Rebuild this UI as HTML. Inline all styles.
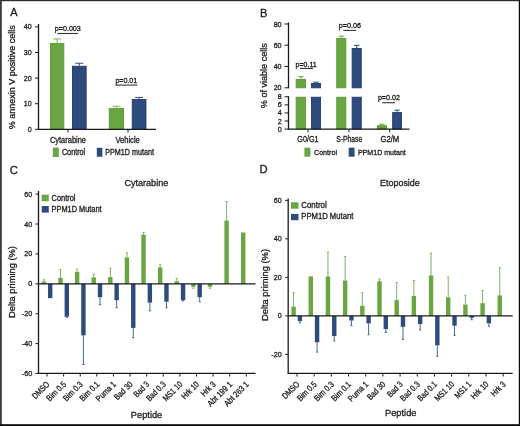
<!DOCTYPE html>
<html><head><meta charset="utf-8"><style>
html,body{margin:0;padding:0;background:#fff;}
body{width:520px;height:426px;overflow:hidden;position:relative;}
svg{position:absolute;left:0;top:0;will-change:transform;}
text{font-family:"Liberation Sans",sans-serif;stroke:#1a1a1a;stroke-width:0.3px;}
</style></head><body>
<svg width="520" height="426" viewBox="0 0 520 426">
<rect x="0" y="0" width="520" height="426" fill="#fff"/>
<text x="10.20" y="15.90" font-size="11" fill="#1a1a1a">A</text>
<line x1="57.15" y1="43.03" x2="57.15" y2="38.93" stroke="#78b158" stroke-width="1"/>
<line x1="53.15" y1="38.93" x2="61.15" y2="38.93" stroke="#78b158" stroke-width="1"/>
<rect x="50.45" y="43.48" width="13.40" height="85.82" fill="#6aa544" stroke="#5a9a34" stroke-width="0.9"/>
<line x1="79.30" y1="65.81" x2="79.30" y2="63.25" stroke="#2e4b7e" stroke-width="1"/>
<line x1="75.30" y1="63.25" x2="83.30" y2="63.25" stroke="#2e4b7e" stroke-width="1"/>
<rect x="72.45" y="66.26" width="13.70" height="63.04" fill="#2e4b7e" stroke="#1f3b6e" stroke-width="0.9"/>
<line x1="116.40" y1="108.05" x2="116.40" y2="106.26" stroke="#78b158" stroke-width="1"/>
<line x1="112.40" y1="106.26" x2="120.40" y2="106.26" stroke="#78b158" stroke-width="1"/>
<rect x="109.25" y="108.50" width="14.30" height="20.80" fill="#6aa544" stroke="#5a9a34" stroke-width="0.9"/>
<line x1="139.10" y1="99.09" x2="139.10" y2="97.40" stroke="#2e4b7e" stroke-width="1"/>
<line x1="135.10" y1="97.40" x2="143.10" y2="97.40" stroke="#2e4b7e" stroke-width="1"/>
<rect x="132.25" y="99.54" width="13.70" height="29.76" fill="#2e4b7e" stroke="#1f3b6e" stroke-width="0.9"/>
<line x1="38.50" y1="24.00" x2="38.50" y2="129.80" stroke="#1a1a1a" stroke-width="1.3"/>
<line x1="38.00" y1="129.30" x2="156.00" y2="129.30" stroke="#1a1a1a" stroke-width="1.3"/>
<line x1="35.00" y1="129.30" x2="38.50" y2="129.30" stroke="#1a1a1a" stroke-width="1"/>
<text x="31.80" y="131.85" font-size="7.9" text-anchor="end" textLength="3.97" lengthAdjust="spacingAndGlyphs" fill="#1a1a1a">0</text>
<line x1="35.00" y1="103.70" x2="38.50" y2="103.70" stroke="#1a1a1a" stroke-width="1"/>
<text x="31.80" y="106.25" font-size="7.9" text-anchor="end" textLength="7.94" lengthAdjust="spacingAndGlyphs" fill="#1a1a1a">10</text>
<line x1="35.00" y1="78.10" x2="38.50" y2="78.10" stroke="#1a1a1a" stroke-width="1"/>
<text x="31.80" y="80.65" font-size="7.9" text-anchor="end" textLength="7.94" lengthAdjust="spacingAndGlyphs" fill="#1a1a1a">20</text>
<line x1="35.00" y1="52.50" x2="38.50" y2="52.50" stroke="#1a1a1a" stroke-width="1"/>
<text x="31.80" y="55.05" font-size="7.9" text-anchor="end" textLength="7.94" lengthAdjust="spacingAndGlyphs" fill="#1a1a1a">30</text>
<line x1="35.00" y1="26.90" x2="38.50" y2="26.90" stroke="#1a1a1a" stroke-width="1"/>
<text x="31.80" y="29.45" font-size="7.9" text-anchor="end" textLength="7.94" lengthAdjust="spacingAndGlyphs" fill="#1a1a1a">40</text>
<line x1="68.00" y1="129.30" x2="68.00" y2="132.50" stroke="#1a1a1a" stroke-width="1"/>
<line x1="128.00" y1="129.30" x2="128.00" y2="132.50" stroke="#1a1a1a" stroke-width="1"/>
<text x="15.30" y="129.30" font-size="9.6" textLength="104.00" lengthAdjust="spacingAndGlyphs" transform="rotate(-90 15.30 129.30)" fill="#1a1a1a">% annexin V positive cells</text>
<text x="49.90" y="143.10" font-size="8.8" textLength="36.10" lengthAdjust="spacingAndGlyphs" fill="#1a1a1a">Cytarabine</text>
<text x="115.40" y="142.90" font-size="8.8" textLength="24.40" lengthAdjust="spacingAndGlyphs" fill="#1a1a1a">Vehicle</text>
<rect x="52.80" y="147.60" width="6.00" height="9.40" fill="#6aa544"/>
<text x="61.90" y="154.90" font-size="8.2" textLength="23.30" lengthAdjust="spacingAndGlyphs" fill="#1a1a1a">Control</text>
<rect x="96.80" y="147.80" width="5.60" height="9.00" fill="#2e4b7e"/>
<text x="105.30" y="154.70" font-size="8.2" textLength="48.60" lengthAdjust="spacingAndGlyphs" fill="#1a1a1a">PPM1D mutant</text>
<text x="54.80" y="30.80" font-size="7.8" textLength="26.00" lengthAdjust="spacingAndGlyphs" fill="#1a1a1a">p=0.003</text>
<line x1="57.30" y1="33.50" x2="78.00" y2="33.50" stroke="#333" stroke-width="1.1"/>
<text x="115.40" y="82.50" font-size="7.8" textLength="21.80" lengthAdjust="spacingAndGlyphs" fill="#1a1a1a">p=0.01</text>
<line x1="115.60" y1="85.10" x2="137.50" y2="85.10" stroke="#333" stroke-width="1.1"/>
<text x="260.10" y="16.50" font-size="11" fill="#1a1a1a">B</text>
<line x1="300.85" y1="78.97" x2="300.85" y2="76.63" stroke="#6aa544" stroke-width="1"/>
<line x1="298.10" y1="76.63" x2="303.60" y2="76.63" stroke="#6aa544" stroke-width="1"/>
<rect x="296.15" y="79.42" width="9.40" height="8.38" fill="#6aa544" stroke="#5a9a34" stroke-width="0.9"/>
<rect x="296.15" y="97.23" width="9.40" height="31.87" fill="#6aa544" stroke="#5a9a34" stroke-width="0.9"/>
<line x1="316.00" y1="83.01" x2="316.00" y2="82.16" stroke="#2e4b7e" stroke-width="1"/>
<line x1="313.25" y1="82.16" x2="318.75" y2="82.16" stroke="#2e4b7e" stroke-width="1"/>
<rect x="311.45" y="83.46" width="9.10" height="4.34" fill="#2e4b7e" stroke="#1f3b6e" stroke-width="0.9"/>
<rect x="311.45" y="97.23" width="9.10" height="31.87" fill="#2e4b7e" stroke="#1f3b6e" stroke-width="0.9"/>
<line x1="341.30" y1="38.03" x2="341.30" y2="36.11" stroke="#6aa544" stroke-width="1"/>
<line x1="338.55" y1="36.11" x2="344.05" y2="36.11" stroke="#6aa544" stroke-width="1"/>
<rect x="336.75" y="38.48" width="9.10" height="49.32" fill="#6aa544" stroke="#5a9a34" stroke-width="0.9"/>
<rect x="336.75" y="97.23" width="9.10" height="31.87" fill="#6aa544" stroke="#5a9a34" stroke-width="0.9"/>
<line x1="356.70" y1="48.03" x2="356.70" y2="45.37" stroke="#2e4b7e" stroke-width="1"/>
<line x1="353.95" y1="45.37" x2="359.45" y2="45.37" stroke="#2e4b7e" stroke-width="1"/>
<rect x="352.15" y="48.48" width="9.10" height="39.32" fill="#2e4b7e" stroke="#1f3b6e" stroke-width="0.9"/>
<rect x="352.15" y="97.23" width="9.10" height="31.87" fill="#2e4b7e" stroke="#1f3b6e" stroke-width="0.9"/>
<line x1="381.90" y1="125.26" x2="381.90" y2="124.25" stroke="#6aa544" stroke-width="1"/>
<line x1="379.15" y1="124.25" x2="384.65" y2="124.25" stroke="#6aa544" stroke-width="1"/>
<rect x="377.35" y="125.71" width="9.10" height="3.39" fill="#6aa544" stroke="#5a9a34" stroke-width="0.9"/>
<line x1="397.10" y1="112.13" x2="397.10" y2="110.11" stroke="#2e4b7e" stroke-width="1"/>
<line x1="394.35" y1="110.11" x2="399.85" y2="110.11" stroke="#2e4b7e" stroke-width="1"/>
<rect x="392.65" y="112.58" width="8.90" height="16.52" fill="#2e4b7e" stroke="#1f3b6e" stroke-width="0.9"/>
<line x1="288.50" y1="22.50" x2="288.50" y2="88.30" stroke="#1a1a1a" stroke-width="1.3"/>
<line x1="288.50" y1="96.28" x2="288.50" y2="129.60" stroke="#1a1a1a" stroke-width="1.3"/>
<line x1="288.00" y1="129.10" x2="409.50" y2="129.10" stroke="#1a1a1a" stroke-width="1.3"/>
<line x1="284.50" y1="87.80" x2="288.50" y2="87.80" stroke="#1a1a1a" stroke-width="1"/>
<text x="281.60" y="90.35" font-size="7.9" text-anchor="end" textLength="7.94" lengthAdjust="spacingAndGlyphs" fill="#1a1a1a">20</text>
<line x1="284.50" y1="66.53" x2="288.50" y2="66.53" stroke="#1a1a1a" stroke-width="1"/>
<text x="281.60" y="69.08" font-size="7.9" text-anchor="end" textLength="7.94" lengthAdjust="spacingAndGlyphs" fill="#1a1a1a">40</text>
<line x1="284.50" y1="45.26" x2="288.50" y2="45.26" stroke="#1a1a1a" stroke-width="1"/>
<text x="281.60" y="47.81" font-size="7.9" text-anchor="end" textLength="7.94" lengthAdjust="spacingAndGlyphs" fill="#1a1a1a">60</text>
<line x1="284.50" y1="23.99" x2="288.50" y2="23.99" stroke="#1a1a1a" stroke-width="1"/>
<text x="281.60" y="26.54" font-size="7.9" text-anchor="end" textLength="7.94" lengthAdjust="spacingAndGlyphs" fill="#1a1a1a">80</text>
<line x1="284.50" y1="129.10" x2="288.50" y2="129.10" stroke="#1a1a1a" stroke-width="1"/>
<text x="281.60" y="131.65" font-size="7.9" text-anchor="end" textLength="3.97" lengthAdjust="spacingAndGlyphs" fill="#1a1a1a">0</text>
<line x1="284.50" y1="121.02" x2="288.50" y2="121.02" stroke="#1a1a1a" stroke-width="1"/>
<text x="281.60" y="123.57" font-size="7.9" text-anchor="end" textLength="3.97" lengthAdjust="spacingAndGlyphs" fill="#1a1a1a">2</text>
<line x1="284.50" y1="112.94" x2="288.50" y2="112.94" stroke="#1a1a1a" stroke-width="1"/>
<text x="281.60" y="115.49" font-size="7.9" text-anchor="end" textLength="3.97" lengthAdjust="spacingAndGlyphs" fill="#1a1a1a">4</text>
<line x1="284.50" y1="104.86" x2="288.50" y2="104.86" stroke="#1a1a1a" stroke-width="1"/>
<text x="281.60" y="107.41" font-size="7.9" text-anchor="end" textLength="3.97" lengthAdjust="spacingAndGlyphs" fill="#1a1a1a">6</text>
<line x1="284.50" y1="96.78" x2="288.50" y2="96.78" stroke="#1a1a1a" stroke-width="1"/>
<text x="281.60" y="99.33" font-size="7.9" text-anchor="end" textLength="3.97" lengthAdjust="spacingAndGlyphs" fill="#1a1a1a">8</text>
<line x1="308.00" y1="129.10" x2="308.00" y2="132.30" stroke="#1a1a1a" stroke-width="1"/>
<line x1="349.00" y1="129.10" x2="349.00" y2="132.30" stroke="#1a1a1a" stroke-width="1"/>
<line x1="389.70" y1="129.10" x2="389.70" y2="132.30" stroke="#1a1a1a" stroke-width="1"/>
<text x="267.50" y="108.20" font-size="9.6" textLength="65.00" lengthAdjust="spacingAndGlyphs" transform="rotate(-90 267.50 108.20)" fill="#1a1a1a">% of viable cells</text>
<text x="297.30" y="142.30" font-size="8.8" textLength="21.20" lengthAdjust="spacingAndGlyphs" fill="#1a1a1a">G0/G1</text>
<text x="336.20" y="142.30" font-size="8.8" textLength="26.10" lengthAdjust="spacingAndGlyphs" fill="#1a1a1a">S-Phase</text>
<text x="380.40" y="142.20" font-size="8.8" textLength="18.90" lengthAdjust="spacingAndGlyphs" fill="#1a1a1a">G2/M</text>
<rect x="304.40" y="147.70" width="6.00" height="9.00" fill="#6aa544"/>
<text x="314.00" y="154.80" font-size="7.8" textLength="23.00" lengthAdjust="spacingAndGlyphs" fill="#1a1a1a">Control</text>
<rect x="348.70" y="147.70" width="5.90" height="9.00" fill="#2e4b7e"/>
<text x="357.90" y="154.60" font-size="7.8" textLength="47.90" lengthAdjust="spacingAndGlyphs" fill="#1a1a1a">PPM1D mutant</text>
<text x="295.60" y="67.20" font-size="7.8" textLength="21.10" lengthAdjust="spacingAndGlyphs" fill="#1a1a1a">p=0.11</text>
<line x1="300.00" y1="68.40" x2="313.00" y2="68.40" stroke="#333" stroke-width="1.1"/>
<text x="338.80" y="28.20" font-size="7.8" textLength="22.20" lengthAdjust="spacingAndGlyphs" fill="#1a1a1a">p=0.06</text>
<line x1="343.30" y1="30.40" x2="356.20" y2="30.40" stroke="#333" stroke-width="1.1"/>
<text x="377.90" y="99.60" font-size="7.8" textLength="22.10" lengthAdjust="spacingAndGlyphs" fill="#1a1a1a">p=0.02</text>
<line x1="382.30" y1="102.70" x2="395.00" y2="102.70" stroke="#333" stroke-width="1.1"/>
<text x="9.80" y="173.60" font-size="11.2" fill="#1a1a1a">C</text>
<text x="124.40" y="185.90" font-size="9.7" textLength="43.90" lengthAdjust="spacingAndGlyphs" fill="#1a1a1a">Cytarabine</text>
<line x1="43.90" y1="281.56" x2="43.90" y2="279.76" stroke="#7fb562" stroke-width="1"/>
<line x1="42.80" y1="279.76" x2="45.00" y2="279.76" stroke="#7fb562" stroke-width="1"/>
<rect x="41.70" y="281.56" width="4.40" height="2.24" fill="#6aa544"/>
<rect x="48.00" y="283.80" width="4.40" height="14.35" fill="#2e4b7e"/>
<line x1="60.51" y1="277.82" x2="60.51" y2="269.60" stroke="#7fb562" stroke-width="1"/>
<line x1="59.41" y1="269.60" x2="61.61" y2="269.60" stroke="#7fb562" stroke-width="1"/>
<rect x="58.31" y="277.82" width="4.40" height="5.98" fill="#6aa544"/>
<line x1="66.81" y1="316.69" x2="66.81" y2="317.44" stroke="#4a6592" stroke-width="1"/>
<line x1="65.71" y1="317.44" x2="67.91" y2="317.44" stroke="#4a6592" stroke-width="1"/>
<rect x="64.61" y="283.80" width="4.40" height="32.89" fill="#2e4b7e"/>
<line x1="77.12" y1="271.84" x2="77.12" y2="269.15" stroke="#7fb562" stroke-width="1"/>
<line x1="76.02" y1="269.15" x2="78.22" y2="269.15" stroke="#7fb562" stroke-width="1"/>
<rect x="74.92" y="271.84" width="4.40" height="11.96" fill="#6aa544"/>
<line x1="83.42" y1="335.38" x2="83.42" y2="364.53" stroke="#4a6592" stroke-width="1"/>
<line x1="82.32" y1="364.53" x2="84.52" y2="364.53" stroke="#4a6592" stroke-width="1"/>
<rect x="81.22" y="283.80" width="4.40" height="51.58" fill="#2e4b7e"/>
<line x1="93.73" y1="277.37" x2="93.73" y2="274.23" stroke="#7fb562" stroke-width="1"/>
<line x1="92.63" y1="274.23" x2="94.83" y2="274.23" stroke="#7fb562" stroke-width="1"/>
<rect x="91.53" y="277.37" width="4.40" height="6.43" fill="#6aa544"/>
<line x1="100.03" y1="297.25" x2="100.03" y2="304.73" stroke="#4a6592" stroke-width="1"/>
<line x1="98.93" y1="304.73" x2="101.13" y2="304.73" stroke="#4a6592" stroke-width="1"/>
<rect x="97.83" y="283.80" width="4.40" height="13.45" fill="#2e4b7e"/>
<line x1="110.34" y1="277.07" x2="110.34" y2="268.25" stroke="#7fb562" stroke-width="1"/>
<line x1="109.24" y1="268.25" x2="111.44" y2="268.25" stroke="#7fb562" stroke-width="1"/>
<rect x="108.14" y="277.07" width="4.40" height="6.73" fill="#6aa544"/>
<line x1="116.64" y1="300.25" x2="116.64" y2="307.72" stroke="#4a6592" stroke-width="1"/>
<line x1="115.54" y1="307.72" x2="117.74" y2="307.72" stroke="#4a6592" stroke-width="1"/>
<rect x="114.44" y="283.80" width="4.40" height="16.44" fill="#2e4b7e"/>
<line x1="126.95" y1="257.34" x2="126.95" y2="252.85" stroke="#7fb562" stroke-width="1"/>
<line x1="125.85" y1="252.85" x2="128.05" y2="252.85" stroke="#7fb562" stroke-width="1"/>
<rect x="124.75" y="257.34" width="4.40" height="26.46" fill="#6aa544"/>
<line x1="133.25" y1="327.90" x2="133.25" y2="337.62" stroke="#4a6592" stroke-width="1"/>
<line x1="132.15" y1="337.62" x2="134.35" y2="337.62" stroke="#4a6592" stroke-width="1"/>
<rect x="131.05" y="283.80" width="4.40" height="44.10" fill="#2e4b7e"/>
<line x1="143.56" y1="234.76" x2="143.56" y2="232.37" stroke="#7fb562" stroke-width="1"/>
<line x1="142.46" y1="232.37" x2="144.66" y2="232.37" stroke="#7fb562" stroke-width="1"/>
<rect x="141.36" y="234.76" width="4.40" height="49.04" fill="#6aa544"/>
<line x1="149.86" y1="302.64" x2="149.86" y2="310.71" stroke="#4a6592" stroke-width="1"/>
<line x1="148.76" y1="310.71" x2="150.96" y2="310.71" stroke="#4a6592" stroke-width="1"/>
<rect x="147.66" y="283.80" width="4.40" height="18.84" fill="#2e4b7e"/>
<line x1="160.17" y1="267.36" x2="160.17" y2="264.37" stroke="#7fb562" stroke-width="1"/>
<line x1="159.07" y1="264.37" x2="161.27" y2="264.37" stroke="#7fb562" stroke-width="1"/>
<rect x="157.97" y="267.36" width="4.40" height="16.44" fill="#6aa544"/>
<line x1="166.47" y1="301.74" x2="166.47" y2="307.72" stroke="#4a6592" stroke-width="1"/>
<line x1="165.37" y1="307.72" x2="167.57" y2="307.72" stroke="#4a6592" stroke-width="1"/>
<rect x="164.27" y="283.80" width="4.40" height="17.94" fill="#2e4b7e"/>
<line x1="176.78" y1="281.26" x2="176.78" y2="278.57" stroke="#7fb562" stroke-width="1"/>
<line x1="175.68" y1="278.57" x2="177.88" y2="278.57" stroke="#7fb562" stroke-width="1"/>
<rect x="174.58" y="281.26" width="4.40" height="2.54" fill="#6aa544"/>
<line x1="183.08" y1="300.25" x2="183.08" y2="300.99" stroke="#4a6592" stroke-width="1"/>
<line x1="181.98" y1="300.99" x2="184.18" y2="300.99" stroke="#4a6592" stroke-width="1"/>
<rect x="180.88" y="283.80" width="4.40" height="16.44" fill="#2e4b7e"/>
<line x1="193.39" y1="286.79" x2="193.39" y2="288.29" stroke="#7fb562" stroke-width="1"/>
<line x1="192.29" y1="288.29" x2="194.49" y2="288.29" stroke="#7fb562" stroke-width="1"/>
<rect x="191.19" y="283.80" width="4.40" height="2.99" fill="#6aa544"/>
<line x1="199.69" y1="297.25" x2="199.69" y2="301.74" stroke="#4a6592" stroke-width="1"/>
<line x1="198.59" y1="301.74" x2="200.79" y2="301.74" stroke="#4a6592" stroke-width="1"/>
<rect x="197.49" y="283.80" width="4.40" height="13.45" fill="#2e4b7e"/>
<line x1="210.00" y1="286.79" x2="210.00" y2="288.29" stroke="#7fb562" stroke-width="1"/>
<line x1="208.90" y1="288.29" x2="211.10" y2="288.29" stroke="#7fb562" stroke-width="1"/>
<rect x="207.80" y="283.80" width="4.40" height="2.99" fill="#6aa544"/>
<line x1="226.61" y1="220.56" x2="226.61" y2="201.57" stroke="#7fb562" stroke-width="1"/>
<line x1="225.51" y1="201.57" x2="227.71" y2="201.57" stroke="#7fb562" stroke-width="1"/>
<rect x="224.41" y="220.56" width="4.40" height="63.24" fill="#6aa544"/>
<rect x="241.02" y="232.52" width="4.40" height="51.28" fill="#6aa544"/>
<line x1="38.50" y1="191.00" x2="38.50" y2="373.80" stroke="#1a1a1a" stroke-width="1.3"/>
<line x1="38.50" y1="283.80" x2="255.50" y2="283.80" stroke="#1a1a1a" stroke-width="1.3"/>
<line x1="38.00" y1="373.30" x2="255.50" y2="373.30" stroke="#1a1a1a" stroke-width="1.3"/>
<line x1="35.50" y1="194.10" x2="38.50" y2="194.10" stroke="#1a1a1a" stroke-width="1"/>
<text x="32.30" y="196.65" font-size="7.9" text-anchor="end" textLength="7.94" lengthAdjust="spacingAndGlyphs" fill="#1a1a1a">60</text>
<line x1="35.50" y1="224.00" x2="38.50" y2="224.00" stroke="#1a1a1a" stroke-width="1"/>
<text x="32.30" y="226.55" font-size="7.9" text-anchor="end" textLength="7.94" lengthAdjust="spacingAndGlyphs" fill="#1a1a1a">40</text>
<line x1="35.50" y1="253.90" x2="38.50" y2="253.90" stroke="#1a1a1a" stroke-width="1"/>
<text x="32.30" y="256.45" font-size="7.9" text-anchor="end" textLength="7.94" lengthAdjust="spacingAndGlyphs" fill="#1a1a1a">20</text>
<line x1="35.50" y1="283.80" x2="38.50" y2="283.80" stroke="#1a1a1a" stroke-width="1"/>
<text x="32.30" y="286.35" font-size="7.9" text-anchor="end" textLength="3.97" lengthAdjust="spacingAndGlyphs" fill="#1a1a1a">0</text>
<line x1="35.50" y1="313.70" x2="38.50" y2="313.70" stroke="#1a1a1a" stroke-width="1"/>
<text x="32.30" y="316.25" font-size="7.9" text-anchor="end" textLength="10.44" lengthAdjust="spacingAndGlyphs" fill="#1a1a1a">-20</text>
<line x1="35.50" y1="343.60" x2="38.50" y2="343.60" stroke="#1a1a1a" stroke-width="1"/>
<text x="32.30" y="346.15" font-size="7.9" text-anchor="end" textLength="10.44" lengthAdjust="spacingAndGlyphs" fill="#1a1a1a">-40</text>
<line x1="35.50" y1="373.50" x2="38.50" y2="373.50" stroke="#1a1a1a" stroke-width="1"/>
<text x="32.30" y="376.05" font-size="7.9" text-anchor="end" textLength="10.44" lengthAdjust="spacingAndGlyphs" fill="#1a1a1a">-60</text>
<line x1="47.00" y1="373.30" x2="47.00" y2="376.50" stroke="#1a1a1a" stroke-width="1"/>
<text x="50.10" y="384.90" font-size="8.58" text-anchor="end" textLength="20.69" lengthAdjust="spacingAndGlyphs" transform="rotate(-45 50.10 384.90)" fill="#1a1a1a">DMSO</text>
<line x1="63.61" y1="373.30" x2="63.61" y2="376.50" stroke="#1a1a1a" stroke-width="1"/>
<text x="66.71" y="384.90" font-size="8.58" text-anchor="end" textLength="23.83" lengthAdjust="spacingAndGlyphs" transform="rotate(-45 66.71 384.90)" fill="#1a1a1a">Bim 0.5</text>
<line x1="80.22" y1="373.30" x2="80.22" y2="376.50" stroke="#1a1a1a" stroke-width="1"/>
<text x="83.32" y="384.90" font-size="8.58" text-anchor="end" textLength="23.83" lengthAdjust="spacingAndGlyphs" transform="rotate(-45 83.32 384.90)" fill="#1a1a1a">Bim 0.3</text>
<line x1="96.83" y1="373.30" x2="96.83" y2="376.50" stroke="#1a1a1a" stroke-width="1"/>
<text x="99.93" y="384.90" font-size="8.58" text-anchor="end" textLength="23.83" lengthAdjust="spacingAndGlyphs" transform="rotate(-45 99.93 384.90)" fill="#1a1a1a">Bim 0.1</text>
<line x1="113.44" y1="373.30" x2="113.44" y2="376.50" stroke="#1a1a1a" stroke-width="1"/>
<text x="116.54" y="384.90" font-size="8.58" text-anchor="end" textLength="24.37" lengthAdjust="spacingAndGlyphs" transform="rotate(-45 116.54 384.90)" fill="#1a1a1a">Puma 1</text>
<line x1="130.05" y1="373.30" x2="130.05" y2="376.50" stroke="#1a1a1a" stroke-width="1"/>
<text x="133.15" y="384.90" font-size="8.58" text-anchor="end" textLength="22.04" lengthAdjust="spacingAndGlyphs" transform="rotate(-45 133.15 384.90)" fill="#1a1a1a">Bad 30</text>
<line x1="146.66" y1="373.30" x2="146.66" y2="376.50" stroke="#1a1a1a" stroke-width="1"/>
<text x="149.76" y="384.90" font-size="8.58" text-anchor="end" textLength="18.04" lengthAdjust="spacingAndGlyphs" transform="rotate(-45 149.76 384.90)" fill="#1a1a1a">Bad 3</text>
<line x1="163.27" y1="373.30" x2="163.27" y2="376.50" stroke="#1a1a1a" stroke-width="1"/>
<text x="166.37" y="384.90" font-size="8.58" text-anchor="end" textLength="23.66" lengthAdjust="spacingAndGlyphs" transform="rotate(-45 166.37 384.90)" fill="#1a1a1a">Bad 0.3</text>
<line x1="179.88" y1="373.30" x2="179.88" y2="376.50" stroke="#1a1a1a" stroke-width="1"/>
<text x="182.98" y="384.90" font-size="8.58" text-anchor="end" textLength="23.77" lengthAdjust="spacingAndGlyphs" transform="rotate(-45 182.98 384.90)" fill="#1a1a1a">MS1 10</text>
<line x1="196.49" y1="373.30" x2="196.49" y2="376.50" stroke="#1a1a1a" stroke-width="1"/>
<text x="199.59" y="384.90" font-size="8.58" text-anchor="end" textLength="20.95" lengthAdjust="spacingAndGlyphs" transform="rotate(-45 199.59 384.90)" fill="#1a1a1a">Hrk 10</text>
<line x1="213.10" y1="373.30" x2="213.10" y2="376.50" stroke="#1a1a1a" stroke-width="1"/>
<text x="216.20" y="384.90" font-size="8.58" text-anchor="end" textLength="16.95" lengthAdjust="spacingAndGlyphs" transform="rotate(-45 216.20 384.90)" fill="#1a1a1a">Hrk 3</text>
<line x1="229.71" y1="373.30" x2="229.71" y2="376.50" stroke="#1a1a1a" stroke-width="1"/>
<text x="232.81" y="384.90" font-size="8.58" text-anchor="end" textLength="31.11" lengthAdjust="spacingAndGlyphs" transform="rotate(-45 232.81 384.90)" fill="#1a1a1a">Abt 199 1</text>
<line x1="246.32" y1="373.30" x2="246.32" y2="376.50" stroke="#1a1a1a" stroke-width="1"/>
<text x="249.42" y="384.90" font-size="8.58" text-anchor="end" textLength="31.11" lengthAdjust="spacingAndGlyphs" transform="rotate(-45 249.42 384.90)" fill="#1a1a1a">Abt 263 1</text>
<rect x="41.70" y="194.70" width="7.10" height="6.50" fill="#6aa544"/>
<text x="51.60" y="200.60" font-size="8.2" textLength="23.90" lengthAdjust="spacingAndGlyphs" fill="#1a1a1a">Control</text>
<rect x="41.70" y="206.00" width="7.10" height="6.60" fill="#2e4b7e"/>
<text x="51.60" y="211.80" font-size="8.2" textLength="50.00" lengthAdjust="spacingAndGlyphs" fill="#1a1a1a">PPM1D Mutant</text>
<text x="15.20" y="318.00" font-size="9.8" textLength="72.00" lengthAdjust="spacingAndGlyphs" transform="rotate(-90 15.20 318.00)" fill="#1a1a1a">Delta priming (%)</text>
<text x="130.80" y="417.80" font-size="9.6" textLength="31.50" lengthAdjust="spacingAndGlyphs" fill="#1a1a1a">Peptide</text>
<text x="259.60" y="173.30" font-size="11.2" fill="#1a1a1a">D</text>
<text x="380.00" y="186.00" font-size="9.7" textLength="39.80" lengthAdjust="spacingAndGlyphs" fill="#1a1a1a">Etoposide</text>
<line x1="293.60" y1="306.66" x2="293.60" y2="292.61" stroke="#7fb562" stroke-width="1"/>
<line x1="292.50" y1="292.61" x2="294.70" y2="292.61" stroke="#7fb562" stroke-width="1"/>
<rect x="291.40" y="306.66" width="4.40" height="9.24" fill="#6aa544"/>
<line x1="299.90" y1="321.10" x2="299.90" y2="322.83" stroke="#4a6592" stroke-width="1"/>
<line x1="298.80" y1="322.83" x2="301.00" y2="322.83" stroke="#4a6592" stroke-width="1"/>
<rect x="297.70" y="315.90" width="4.40" height="5.20" fill="#2e4b7e"/>
<rect x="308.58" y="276.44" width="4.40" height="39.46" fill="#6aa544"/>
<line x1="317.08" y1="342.27" x2="317.08" y2="352.09" stroke="#4a6592" stroke-width="1"/>
<line x1="315.98" y1="352.09" x2="318.18" y2="352.09" stroke="#4a6592" stroke-width="1"/>
<rect x="314.88" y="315.90" width="4.40" height="26.37" fill="#2e4b7e"/>
<line x1="327.96" y1="276.44" x2="327.96" y2="252.18" stroke="#7fb562" stroke-width="1"/>
<line x1="326.86" y1="252.18" x2="329.06" y2="252.18" stroke="#7fb562" stroke-width="1"/>
<rect x="325.76" y="276.44" width="4.40" height="39.46" fill="#6aa544"/>
<line x1="334.26" y1="336.11" x2="334.26" y2="340.92" stroke="#4a6592" stroke-width="1"/>
<line x1="333.16" y1="340.92" x2="335.36" y2="340.92" stroke="#4a6592" stroke-width="1"/>
<rect x="332.06" y="315.90" width="4.40" height="20.21" fill="#2e4b7e"/>
<line x1="345.14" y1="280.48" x2="345.14" y2="256.42" stroke="#7fb562" stroke-width="1"/>
<line x1="344.04" y1="256.42" x2="346.24" y2="256.42" stroke="#7fb562" stroke-width="1"/>
<rect x="342.94" y="280.48" width="4.40" height="35.42" fill="#6aa544"/>
<line x1="351.44" y1="320.52" x2="351.44" y2="325.72" stroke="#4a6592" stroke-width="1"/>
<line x1="350.34" y1="325.72" x2="352.54" y2="325.72" stroke="#4a6592" stroke-width="1"/>
<rect x="349.24" y="315.90" width="4.40" height="4.62" fill="#2e4b7e"/>
<line x1="362.32" y1="305.70" x2="362.32" y2="292.61" stroke="#7fb562" stroke-width="1"/>
<line x1="361.22" y1="292.61" x2="363.42" y2="292.61" stroke="#7fb562" stroke-width="1"/>
<rect x="360.12" y="305.70" width="4.40" height="10.20" fill="#6aa544"/>
<line x1="368.62" y1="323.41" x2="368.62" y2="334.76" stroke="#4a6592" stroke-width="1"/>
<line x1="367.52" y1="334.76" x2="369.72" y2="334.76" stroke="#4a6592" stroke-width="1"/>
<rect x="366.42" y="315.90" width="4.40" height="7.51" fill="#2e4b7e"/>
<line x1="379.50" y1="281.25" x2="379.50" y2="278.94" stroke="#7fb562" stroke-width="1"/>
<line x1="378.40" y1="278.94" x2="380.60" y2="278.94" stroke="#7fb562" stroke-width="1"/>
<rect x="377.30" y="281.25" width="4.40" height="34.65" fill="#6aa544"/>
<line x1="385.80" y1="328.99" x2="385.80" y2="332.45" stroke="#4a6592" stroke-width="1"/>
<line x1="384.70" y1="332.45" x2="386.90" y2="332.45" stroke="#4a6592" stroke-width="1"/>
<rect x="383.60" y="315.90" width="4.40" height="13.09" fill="#2e4b7e"/>
<line x1="396.68" y1="300.11" x2="396.68" y2="282.60" stroke="#7fb562" stroke-width="1"/>
<line x1="395.58" y1="282.60" x2="397.78" y2="282.60" stroke="#7fb562" stroke-width="1"/>
<rect x="394.48" y="300.11" width="4.40" height="15.79" fill="#6aa544"/>
<line x1="402.98" y1="326.87" x2="402.98" y2="339.38" stroke="#4a6592" stroke-width="1"/>
<line x1="401.88" y1="339.38" x2="404.08" y2="339.38" stroke="#4a6592" stroke-width="1"/>
<rect x="400.78" y="315.90" width="4.40" height="10.97" fill="#2e4b7e"/>
<line x1="413.86" y1="295.88" x2="413.86" y2="280.48" stroke="#7fb562" stroke-width="1"/>
<line x1="412.76" y1="280.48" x2="414.96" y2="280.48" stroke="#7fb562" stroke-width="1"/>
<rect x="411.66" y="295.88" width="4.40" height="20.02" fill="#6aa544"/>
<line x1="420.16" y1="323.98" x2="420.16" y2="329.95" stroke="#4a6592" stroke-width="1"/>
<line x1="419.06" y1="329.95" x2="421.26" y2="329.95" stroke="#4a6592" stroke-width="1"/>
<rect x="417.96" y="315.90" width="4.40" height="8.08" fill="#2e4b7e"/>
<line x1="431.04" y1="275.47" x2="431.04" y2="253.14" stroke="#7fb562" stroke-width="1"/>
<line x1="429.94" y1="253.14" x2="432.14" y2="253.14" stroke="#7fb562" stroke-width="1"/>
<rect x="428.84" y="275.47" width="4.40" height="40.43" fill="#6aa544"/>
<line x1="437.34" y1="345.35" x2="437.34" y2="356.32" stroke="#4a6592" stroke-width="1"/>
<line x1="436.24" y1="356.32" x2="438.44" y2="356.32" stroke="#4a6592" stroke-width="1"/>
<rect x="435.14" y="315.90" width="4.40" height="29.45" fill="#2e4b7e"/>
<line x1="448.22" y1="297.23" x2="448.22" y2="277.01" stroke="#7fb562" stroke-width="1"/>
<line x1="447.12" y1="277.01" x2="449.32" y2="277.01" stroke="#7fb562" stroke-width="1"/>
<rect x="446.02" y="297.23" width="4.40" height="18.67" fill="#6aa544"/>
<line x1="454.52" y1="325.72" x2="454.52" y2="335.34" stroke="#4a6592" stroke-width="1"/>
<line x1="453.42" y1="335.34" x2="455.62" y2="335.34" stroke="#4a6592" stroke-width="1"/>
<rect x="452.32" y="315.90" width="4.40" height="9.82" fill="#2e4b7e"/>
<line x1="465.40" y1="304.54" x2="465.40" y2="295.30" stroke="#7fb562" stroke-width="1"/>
<line x1="464.30" y1="295.30" x2="466.50" y2="295.30" stroke="#7fb562" stroke-width="1"/>
<rect x="463.20" y="304.54" width="4.40" height="11.36" fill="#6aa544"/>
<line x1="471.70" y1="317.82" x2="471.70" y2="319.75" stroke="#4a6592" stroke-width="1"/>
<line x1="470.60" y1="319.75" x2="472.80" y2="319.75" stroke="#4a6592" stroke-width="1"/>
<rect x="469.50" y="315.90" width="4.40" height="1.93" fill="#2e4b7e"/>
<line x1="482.58" y1="303.19" x2="482.58" y2="290.49" stroke="#7fb562" stroke-width="1"/>
<line x1="481.48" y1="290.49" x2="483.68" y2="290.49" stroke="#7fb562" stroke-width="1"/>
<rect x="480.38" y="303.19" width="4.40" height="12.70" fill="#6aa544"/>
<line x1="488.88" y1="323.41" x2="488.88" y2="326.29" stroke="#4a6592" stroke-width="1"/>
<line x1="487.78" y1="326.29" x2="489.98" y2="326.29" stroke="#4a6592" stroke-width="1"/>
<rect x="486.68" y="315.90" width="4.40" height="7.51" fill="#2e4b7e"/>
<line x1="499.76" y1="295.30" x2="499.76" y2="267.77" stroke="#7fb562" stroke-width="1"/>
<line x1="498.66" y1="267.77" x2="500.86" y2="267.77" stroke="#7fb562" stroke-width="1"/>
<rect x="497.56" y="295.30" width="4.40" height="20.60" fill="#6aa544"/>
<line x1="288.20" y1="198.50" x2="288.20" y2="373.80" stroke="#1a1a1a" stroke-width="1.3"/>
<line x1="288.20" y1="315.90" x2="512.70" y2="315.90" stroke="#1a1a1a" stroke-width="1.3"/>
<line x1="287.70" y1="373.30" x2="512.70" y2="373.30" stroke="#1a1a1a" stroke-width="1.3"/>
<line x1="285.20" y1="200.40" x2="288.20" y2="200.40" stroke="#1a1a1a" stroke-width="1"/>
<text x="281.80" y="202.95" font-size="7.9" text-anchor="end" textLength="7.94" lengthAdjust="spacingAndGlyphs" fill="#1a1a1a">60</text>
<line x1="285.20" y1="238.90" x2="288.20" y2="238.90" stroke="#1a1a1a" stroke-width="1"/>
<text x="281.80" y="241.45" font-size="7.9" text-anchor="end" textLength="7.94" lengthAdjust="spacingAndGlyphs" fill="#1a1a1a">40</text>
<line x1="285.20" y1="277.40" x2="288.20" y2="277.40" stroke="#1a1a1a" stroke-width="1"/>
<text x="281.80" y="279.95" font-size="7.9" text-anchor="end" textLength="7.94" lengthAdjust="spacingAndGlyphs" fill="#1a1a1a">20</text>
<line x1="285.20" y1="315.90" x2="288.20" y2="315.90" stroke="#1a1a1a" stroke-width="1"/>
<text x="281.80" y="318.45" font-size="7.9" text-anchor="end" textLength="3.97" lengthAdjust="spacingAndGlyphs" fill="#1a1a1a">0</text>
<line x1="285.20" y1="354.40" x2="288.20" y2="354.40" stroke="#1a1a1a" stroke-width="1"/>
<text x="281.80" y="356.95" font-size="7.9" text-anchor="end" textLength="10.44" lengthAdjust="spacingAndGlyphs" fill="#1a1a1a">-20</text>
<line x1="297.00" y1="373.30" x2="297.00" y2="376.50" stroke="#1a1a1a" stroke-width="1"/>
<text x="300.10" y="384.90" font-size="8.58" text-anchor="end" textLength="20.69" lengthAdjust="spacingAndGlyphs" transform="rotate(-45 300.10 384.90)" fill="#1a1a1a">DMSO</text>
<line x1="314.18" y1="373.30" x2="314.18" y2="376.50" stroke="#1a1a1a" stroke-width="1"/>
<text x="317.28" y="384.90" font-size="8.58" text-anchor="end" textLength="23.83" lengthAdjust="spacingAndGlyphs" transform="rotate(-45 317.28 384.90)" fill="#1a1a1a">Bim 0.5</text>
<line x1="331.36" y1="373.30" x2="331.36" y2="376.50" stroke="#1a1a1a" stroke-width="1"/>
<text x="334.46" y="384.90" font-size="8.58" text-anchor="end" textLength="23.83" lengthAdjust="spacingAndGlyphs" transform="rotate(-45 334.46 384.90)" fill="#1a1a1a">Bim 0.3</text>
<line x1="348.54" y1="373.30" x2="348.54" y2="376.50" stroke="#1a1a1a" stroke-width="1"/>
<text x="351.64" y="384.90" font-size="8.58" text-anchor="end" textLength="23.83" lengthAdjust="spacingAndGlyphs" transform="rotate(-45 351.64 384.90)" fill="#1a1a1a">Bim 0.1</text>
<line x1="365.72" y1="373.30" x2="365.72" y2="376.50" stroke="#1a1a1a" stroke-width="1"/>
<text x="368.82" y="384.90" font-size="8.58" text-anchor="end" textLength="24.37" lengthAdjust="spacingAndGlyphs" transform="rotate(-45 368.82 384.90)" fill="#1a1a1a">Puma 1</text>
<line x1="382.90" y1="373.30" x2="382.90" y2="376.50" stroke="#1a1a1a" stroke-width="1"/>
<text x="386.00" y="384.90" font-size="8.58" text-anchor="end" textLength="22.04" lengthAdjust="spacingAndGlyphs" transform="rotate(-45 386.00 384.90)" fill="#1a1a1a">Bad 30</text>
<line x1="400.08" y1="373.30" x2="400.08" y2="376.50" stroke="#1a1a1a" stroke-width="1"/>
<text x="403.18" y="384.90" font-size="8.58" text-anchor="end" textLength="18.04" lengthAdjust="spacingAndGlyphs" transform="rotate(-45 403.18 384.90)" fill="#1a1a1a">Bad 3</text>
<line x1="417.26" y1="373.30" x2="417.26" y2="376.50" stroke="#1a1a1a" stroke-width="1"/>
<text x="420.36" y="384.90" font-size="8.58" text-anchor="end" textLength="23.66" lengthAdjust="spacingAndGlyphs" transform="rotate(-45 420.36 384.90)" fill="#1a1a1a">Bad 0.3</text>
<line x1="434.44" y1="373.30" x2="434.44" y2="376.50" stroke="#1a1a1a" stroke-width="1"/>
<text x="437.54" y="384.90" font-size="8.58" text-anchor="end" textLength="23.66" lengthAdjust="spacingAndGlyphs" transform="rotate(-45 437.54 384.90)" fill="#1a1a1a">Bad 0.1</text>
<line x1="451.62" y1="373.30" x2="451.62" y2="376.50" stroke="#1a1a1a" stroke-width="1"/>
<text x="454.72" y="384.90" font-size="8.58" text-anchor="end" textLength="23.77" lengthAdjust="spacingAndGlyphs" transform="rotate(-45 454.72 384.90)" fill="#1a1a1a">MS1 10</text>
<line x1="468.80" y1="373.30" x2="468.80" y2="376.50" stroke="#1a1a1a" stroke-width="1"/>
<text x="471.90" y="384.90" font-size="8.58" text-anchor="end" textLength="19.77" lengthAdjust="spacingAndGlyphs" transform="rotate(-45 471.90 384.90)" fill="#1a1a1a">MS1 1</text>
<line x1="485.98" y1="373.30" x2="485.98" y2="376.50" stroke="#1a1a1a" stroke-width="1"/>
<text x="489.08" y="384.90" font-size="8.58" text-anchor="end" textLength="20.95" lengthAdjust="spacingAndGlyphs" transform="rotate(-45 489.08 384.90)" fill="#1a1a1a">Hrk 10</text>
<line x1="503.16" y1="373.30" x2="503.16" y2="376.50" stroke="#1a1a1a" stroke-width="1"/>
<text x="506.26" y="384.90" font-size="8.58" text-anchor="end" textLength="16.95" lengthAdjust="spacingAndGlyphs" transform="rotate(-45 506.26 384.90)" fill="#1a1a1a">Hrk 3</text>
<rect x="291.00" y="202.30" width="7.50" height="6.40" fill="#6aa544"/>
<text x="301.30" y="208.00" font-size="8.2" textLength="25.40" lengthAdjust="spacingAndGlyphs" fill="#1a1a1a">Control</text>
<rect x="291.00" y="213.90" width="7.50" height="6.30" fill="#2e4b7e"/>
<text x="301.30" y="219.30" font-size="8.2" textLength="52.00" lengthAdjust="spacingAndGlyphs" fill="#1a1a1a">PPM1D Mutant</text>
<text x="268.10" y="321.00" font-size="9.8" textLength="72.00" lengthAdjust="spacingAndGlyphs" transform="rotate(-90 268.10 321.00)" fill="#1a1a1a">Delta priming (%)</text>
<text x="385.00" y="416.10" font-size="9.6" textLength="31.50" lengthAdjust="spacingAndGlyphs" fill="#1a1a1a">Peptide</text>
<rect x="0" y="0" width="520" height="1.2" fill="#2b2b2b"/>
<rect x="0" y="0" width="1.8" height="426" fill="#3a3a3a"/>
<rect x="518.8" y="0" width="1.2" height="426" fill="#0a0a0a"/>
<rect x="0" y="424.2" width="520" height="1.8" fill="#0a0a0a"/>
</svg>
</body></html>
